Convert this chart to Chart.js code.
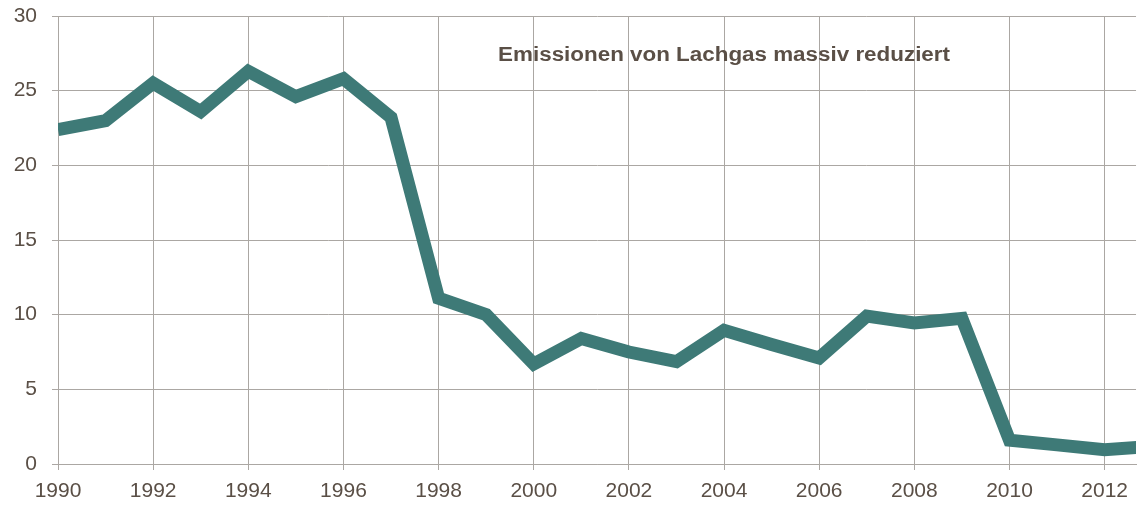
<!DOCTYPE html>
<html>
<head>
<meta charset="utf-8">
<script src="https://cdn.jsdelivr.net/npm/chart.js@4"></script>
<style>
    html, body { margin: 0; padding: 0; background: #fff; }
    #wrap { width: 1137px; height: 505px; }
</style>
</head>
<body>
<div id="wrap"><canvas id="lachgasChart"></canvas></div>
<script>
// Daten
const jahre = [1990, 1991, 1992, 1993, 1994, 1995, 1996, 1997, 1998, 1999, 2000, 2001,
    2002, 2003, 2004, 2005, 2006, 2007, 2008, 2009, 2010, 2011, 2012, 2013];
const emissionen = [22.4, 23.0, 25.5, 23.6, 26.3, 24.6, 25.8, 23.2, 11.1, 10.0, 6.7, 8.4,
    7.5, 6.85, 8.95, 8.0, 7.1, 9.9, 9.45, 9.75, 1.6, 1.28, 0.96, 1.17];
const xTicks = [1990, 1992, 1994, 1996, 1998, 2000, 2002, 2004, 2006, 2008, 2010, 2012];
const yTicks = [0, 5, 10, 15, 20, 25, 30];
const titel = 'Emissionen von Lachgas massiv reduziert';

const textFarbe = '#5a4f46';
const gitterFarbe = '#aba7a3';
const schrift = '"Liberation Sans", Arial, sans-serif';

// Titel steht im Diagramm, mittig ueber 2004
const titelPlugin = {
    id: 'titelImDiagramm',
    afterDraw(chart) {
        const ctx = chart.ctx;
        const x = chart.scales.x.getPixelForValue(2004);
        const y = chart.scales.y.getPixelForValue(27);
        ctx.save();
        ctx.font = 'bold 20px ' + schrift;
        ctx.fillStyle = textFarbe;
        ctx.textAlign = 'center';
        ctx.textBaseline = 'alphabetic';
        ctx.translate(x, y);
        ctx.scale(1.12, 1);
        ctx.fillText(titel, 0, 0);
        ctx.restore();
    }
};

const ctx = document.getElementById('lachgasChart').getContext('2d');
new Chart(ctx, {
    type: 'line',
    data: {
        datasets: [{
            label: titel,
            data: jahre.map((j, i) => ({ x: j, y: emissionen[i] })),
            borderColor: '#3e7a77',
            borderWidth: 13,
            pointRadius: 0,
            tension: 0,
            fill: false
        }]
    },
    options: {
        responsive: true,
        maintainAspectRatio: false,
        animation: false,
        layout: { padding: { top: 16, right: 0, left: 0, bottom: 0 } },
        scales: {
            x: {
                type: 'linear',
                min: 1990,
                max: 2012.66,
                afterBuildTicks: (scale) => { scale.ticks = xTicks.map(v => ({ value: v })); },
                afterFit: (scale) => { scale.height = 41; },
                ticks: {
                    color: textFarbe,
                    font: { family: schrift, size: 21 },
                    padding: 9,
                    maxRotation: 0,
                    autoSkip: false,
                    callback: (v) => String(v)
                },
                grid: { color: gitterFarbe, lineWidth: 1, tickLength: 6 },
                border: { color: gitterFarbe, width: 1 }
            },
            y: {
                min: 0,
                max: 30,
                afterBuildTicks: (scale) => { scale.ticks = yTicks.map(v => ({ value: v })); },
                afterFit: (scale) => {
                    scale.width = 58;
                    scale.paddingTop = 0;
                    scale.paddingBottom = 0;
                },
                ticks: {
                    color: textFarbe,
                    font: { family: schrift, size: 21 },
                    padding: 15
                },
                grid: { color: gitterFarbe, lineWidth: 1, tickLength: 6 },
                border: { color: gitterFarbe, width: 1 }
            }
        },
        plugins: {
            legend: { display: false },
            tooltip: { enabled: false }
        }
    },
    plugins: [titelPlugin]
});
</script>
</body>
</html>
